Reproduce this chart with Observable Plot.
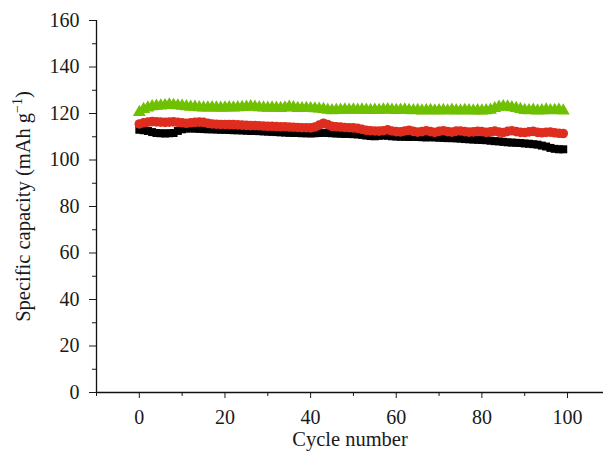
<!DOCTYPE html>
<html><head><meta charset="utf-8">
<script src="https://cdn.jsdelivr.net/npm/d3@7"></script>
<script src="https://cdn.jsdelivr.net/npm/@observablehq/plot@0.6"></script>
<style>body{margin:0;background:#fff} svg{display:block}</style>
</head><body><div id="chart"></div>
<script>
const cycles = d3.range(0, 100);
const blackVals = [113.0,112.8,112.5,112.0,111.6,111.5,111.4,111.5,111.6,112.5,113.2,113.5,113.6,113.5,113.4,113.3,113.2,113.2,113.1,113.0,
113.0,112.9,112.8,112.8,112.7,112.6,112.5,112.5,112.4,112.3,112.2,112.1,112.0,111.9,111.8,111.7,111.6,111.6,111.5,111.5,
111.4,111.5,111.6,111.7,111.6,111.5,111.4,111.3,111.2,111.2,111.1,111.0,110.8,110.5,110.3,110.2,110.4,110.6,110.4,110.2,
110.1,110.0,110.0,109.9,110.0,109.9,109.8,109.7,109.8,109.7,109.6,109.5,109.4,109.4,109.3,109.2,109.0,108.9,108.8,108.7,
108.6,108.5,108.3,108.1,108.0,107.8,107.6,107.5,107.4,107.3,107.1,107.0,106.8,106.6,106.2,105.8,105.2,104.8,104.6,104.6];
const redVals = [115.5,116.0,116.3,116.5,116.4,116.3,116.2,116.3,116.4,116.2,116.0,115.8,116.0,116.2,116.3,116.2,115.8,115.5,115.4,115.3,
115.3,115.2,115.2,115.1,115.0,114.9,114.8,114.8,114.7,114.6,114.5,114.5,114.4,114.3,114.3,114.2,114.1,114.0,113.9,113.9,
113.8,114.2,115.0,115.8,115.2,114.5,114.3,114.2,114.0,113.9,113.8,113.6,113.2,112.8,112.6,112.5,112.4,112.6,113.0,112.5,
112.2,112.1,112.5,112.8,112.3,112.0,112.2,112.6,112.2,111.9,112.3,112.6,112.2,112.0,112.4,112.5,112.2,112.0,112.1,112.3,
112.2,111.9,112.1,112.4,112.0,111.8,112.3,112.6,112.2,111.9,111.8,112.1,112.3,111.9,111.7,111.9,112.0,111.7,111.5,111.4];
const greenVals = [120.5,121.8,122.5,123.0,123.2,123.3,123.5,123.8,123.6,123.4,123.2,123.0,122.8,122.8,122.6,122.5,122.5,122.6,122.5,122.4,
122.5,122.6,122.5,122.6,122.7,122.8,123.0,122.8,122.6,122.5,122.4,122.5,122.4,122.3,122.5,122.8,122.6,122.3,122.2,122.3,
122.2,122.1,122.0,121.8,121.5,121.3,121.4,121.5,121.6,121.5,121.6,121.5,121.6,121.5,121.4,121.5,121.4,121.6,121.7,121.5,
121.4,121.5,121.6,121.4,121.3,121.4,121.2,121.3,121.4,121.2,121.3,121.4,121.2,121.5,121.3,121.2,121.4,121.3,121.2,121.3,
121.2,121.3,121.5,122.2,122.8,123.0,122.9,122.6,122.3,121.8,121.4,121.3,121.5,121.2,121.3,121.6,121.3,121.4,121.5,121.2];
const yMajor = [0, 20, 40, 60, 80, 100, 120, 140, 160];
const yMinor = [10, 30, 50, 70, 90, 110, 130, 150];
const xMajor = [0, 20, 40, 60, 80, 100];
const xMinor = [-10, 10, 30, 50, 70, 90];
const xLabel = "Cycle number";
const yLabel = "Specific capacity (mAh g−1)";

const mk = (vals) => cycles.map((c, i) => ({cycle: c, value: vals[i]}));
const black = mk(blackVals), red = mk(redVals), green = mk(greenVals);

const font = "Liberation Serif, Times New Roman, serif";
const chart = Plot.plot({
  width: 603, height: 457,
  marginLeft: 96, marginRight: 0, marginTop: 20, marginBottom: 65,
  style: {fontFamily: font, fontSize: "20px", color: "#1a1a1a", background: "#fff"},
  x: {domain: [-10, 108.4]},
  y: {domain: [0, 160]},
  marks: [
    Plot.axisY({ticks: yMajor, tickSize: 7, tickPadding: 10, label: null, fontSize: 20}),
    Plot.axisY({ticks: yMinor, tickSize: 4, text: null, label: null}),
    Plot.axisX({ticks: xMajor, tickSize: 6, tickPadding: 11, label: null, fontSize: 20}),
    Plot.axisX({ticks: xMinor, tickSize: 4, text: null, label: null}),
    Plot.ruleX([-10], {stroke: "#111", strokeWidth: 1.3}),
    Plot.ruleY([0], {stroke: "#111", strokeWidth: 1.3}),
    Plot.dot(black, {x: "cycle", y: "value", symbol: "square", r: 4.5, fill: "#000", stroke: "none"}),
    Plot.dot(red, {x: "cycle", y: "value", symbol: "circle", r: 4.8, fill: "#de2d1e", stroke: "none"}),
    Plot.dot(green, {x: "cycle", y: "value", symbol: "triangle", r: 4.8, fill: "#6ec000", stroke: "none"}),
    Plot.text([yLabel], {frameAnchor: "left", textAnchor: "middle", dx: -73, rotate: -90, fontSize: 20.5, fill: "#1a1a1a"}),
    Plot.text([xLabel], {frameAnchor: "bottom", textAnchor: "middle", dy: 53, fontSize: 20.5, fill: "#1a1a1a"})
  ]
});
document.getElementById("chart").appendChild(chart);
d3.select(chart).selectAll("text").filter(function(){ return this.textContent === yLabel; }).each(function(){
  const t = d3.select(this);
  t.text(null);
  t.append("tspan").text("Specific capacity (mAh g");
  t.append("tspan").attr("dy", -8).attr("font-size", 14).text("−1");
  t.append("tspan").attr("dy", 8).text(")");
});
</script>
</body></html>
